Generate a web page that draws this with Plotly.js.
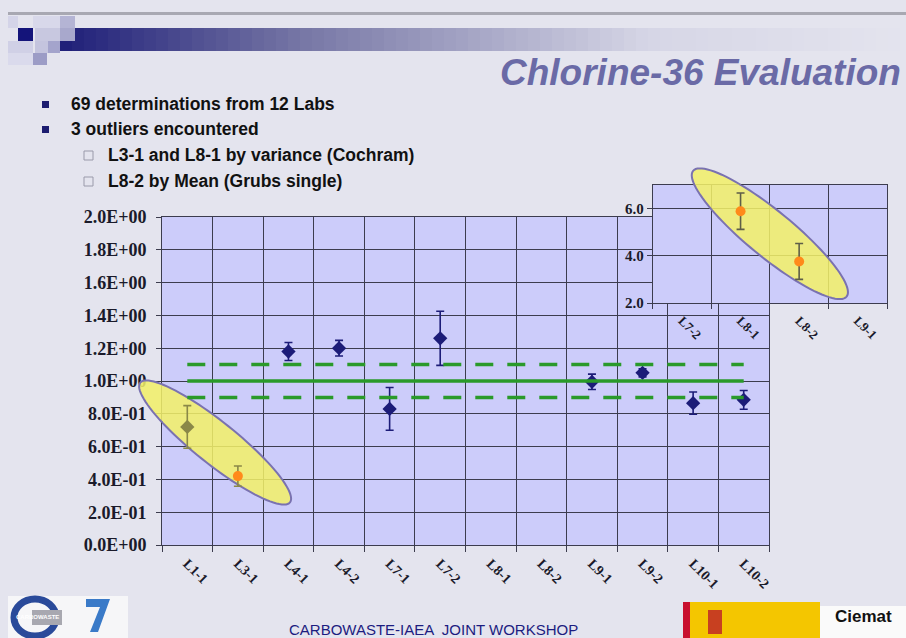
<!DOCTYPE html>
<html>
<head>
<meta charset="utf-8">
<script src="https://cdn.plot.ly/plotly-3.0.1.min.js"></script>
<style>html,body{margin:0;padding:0;background:#e4e4ee;}#chart{width:906px;height:638px;}</style>
</head>
<body>
<div id="chart"></div>
<script>
// ---------- data ----------
const categories = ['L1-1','L3-1','L4-1','L4-2','L7-1','L7-2','L8-1','L8-2','L9-1','L9-2','L10-1','L10-2'];
const values = [0.72, 0.42, 1.18, 1.20, 0.83, 1.26, 5.89, 3.76, 0.995, 1.05, 0.865, 0.885];
const uncertainties = [0.13, 0.062, 0.055, 0.048, 0.13, 0.165, 0.77, 0.76, 0.047, 0.025, 0.068, 0.057];
const outlierLabs = ['L3-1','L8-1','L8-2'];
const shadedLabs = ['L1-1'];
const referenceValue = 1.0;
const referenceBand = 0.1;
const yTickValues = [0, 0.2, 0.4, 0.6, 0.8, 1.0, 1.2, 1.4, 1.6, 1.8, 2.0];
const yTickLabels = ['0.0E+00','2.0E-01','4.0E-01','6.0E-01','8.0E-01','1.0E+00','1.2E+00','1.4E+00','1.6E+00','1.8E+00','2.0E+00'];
const insetCategories = ['L7-2','L8-1','L8-2','L9-1'];
const insetTickValues = [2, 4, 6];
const insetTickLabels = ['2.0','4.0','6.0'];
const insetRange = [2, 7];

// ---------- layout constants ----------
const W = 906, H = 638;
const mainX = [162/W, 769/W];
const mainY = [1-545/H, 1-217/H];
const insX = [652.7/W, 887/W];
const insY = [1-303/H, 1-185/H];

const idx = categories.map((c,i)=>i);
const boundaries = categories.map((c,i)=>i-0.5).concat([categories.length-0.5]);
const insStart = categories.indexOf(insetCategories[0]);
const insEnd = categories.indexOf(insetCategories[insetCategories.length-1]);

const navy = '#1c1c78', olive = '#8a8848', orange = '#ff8a1a', green = '#2a9a2a';
const gridC = '#3c3c4e';

function group(filterFn){
  const g = idx.filter(filterFn);
  return {x: g, y: g.map(i=>values[i]), e: g.map(i=>uncertainties[i])};
}
const normal = group(i => !outlierLabs.includes(categories[i]) && !shadedLabs.includes(categories[i]));
const shaded = group(i => shadedLabs.includes(categories[i]));
const outl = group(i => outlierLabs.includes(categories[i]));

const traces = [];
function addGroup(g, color, errColor, symbol, size, xa, ya){
  traces.push({x:g.x, y:g.y, type:'scatter', mode:'markers', xaxis:xa, yaxis:ya,
    marker:{color:color, symbol:symbol, size:size},
    error_y:{type:'data', array:g.e, visible:true, color:errColor, thickness:1.6, width:4},
    showlegend:false, hoverinfo:'skip'});
}
addGroup(normal, navy, navy, 'diamond', 11, 'x', 'y');
addGroup(shaded, olive, olive, 'diamond', 11, 'x', 'y');
addGroup(outl, orange, olive, 'circle', 10, 'x', 'y');
addGroup(outl, orange, '#5e5e48', 'circle', 10, 'x2', 'y2');

const lineX = [idx[0], idx[idx.length-1]];
traces.push({x:lineX, y:[referenceValue, referenceValue], mode:'lines', line:{color:green, width:3.5}, showlegend:false, hoverinfo:'skip'});
traces.push({x:lineX, y:[referenceValue+referenceBand, referenceValue+referenceBand], mode:'lines', line:{color:green, width:3.5, dash:'18px,14px'}, showlegend:false, hoverinfo:'skip'});
traces.push({x:lineX, y:[referenceValue-referenceBand, referenceValue-referenceBand], mode:'lines', line:{color:green, width:3.5, dash:'18px,14px'}, showlegend:false, hoverinfo:'skip'});

// ---------- ellipse helpers ----------
function toPx(v, dom, rng, isX){
  const f = dom[0] + (v - rng[0])/(rng[1]-rng[0])*(dom[1]-dom[0]);
  return isX ? f*W : (1-f)*H;
}
function fromPx(p, dom, rng, isX){
  const f = isX ? p/W : 1 - p/H;
  return rng[0] + (f - dom[0])/(dom[1]-dom[0])*(rng[1]-rng[0]);
}
function ellipsePx(p1, p2, semiMinor, xd, xr, yd, yr){
  const ax = toPx(p1[0], xd, xr, true), ay = toPx(p1[1], yd, yr, false);
  const bx = toPx(p2[0], xd, xr, true), by = toPx(p2[1], yd, yr, false);
  const cx = (ax+bx)/2, cy = (ay+by)/2;
  const a = Math.hypot(bx-ax, by-ay)/2, th = Math.atan2(by-ay, bx-ax);
  const pts = [];
  for(let k=0;k<96;k++){
    const t = k/96*2*Math.PI;
    pts.push([cx + a*Math.cos(t)*Math.cos(th) - semiMinor*Math.sin(t)*Math.sin(th),
              cy + a*Math.cos(t)*Math.sin(th) + semiMinor*Math.sin(t)*Math.cos(th)]);
  }
  return pts;
}
function pathData(pts, xd, xr, yd, yr, close){
  return pts.map((p,k)=>(k?'L':'M') + fromPx(p[0], xd, xr, true).toFixed(4) + ',' + fromPx(p[1], yd, yr, false).toFixed(4)).join('') + (close?'Z':'');
}
function pathPaper(pts, close){
  return pts.map((p,k)=>(k?'L':'M') + (p[0]/W).toFixed(5) + ',' + (1-p[1]/H).toFixed(5)).join('') + (close?'Z':'');
}
// part of ellipse beyond a straight boundary (axis = 0 for x, 1 for y; outside when coord < lim)
function capParts(pts, axis, lim){
  const n = pts.length, out = p => p[axis] < lim;
  const cross = (a,b) => { const t = (lim - a[axis])/(b[axis]-a[axis]); return [a[0]+(b[0]-a[0])*t, a[1]+(b[1]-a[1])*t]; };
  let s = pts.findIndex(p=>!out(p));
  const arc = []; let started = false;
  for(let k=1;k<=n;k++){
    const a = pts[(s+k-1)%n], b = pts[(s+k)%n];
    if(!out(a) && out(b)){ arc.push(cross(a,b)); started = true; }
    if(out(b)) arc.push(b);
    if(out(a) && !out(b) && started){ arc.push(cross(a,b)); break; }
  }
  return arc;
}
const mainXR = [-0.5, categories.length-0.5], mainYR = [0, 2];
const insXR = [insStart-0.5, insEnd+0.5];
const ellFill = 'rgba(242,240,104,0.86)', ellLine = '#7a72b0';

const shapes = [];
// slide decorations
shapes.push({type:'rect', xref:'paper', yref:'paper', x0:8/W, x1:1, y0:1-15/H, y1:1-12/H, fillcolor:'#a8a8b2', line:{width:0}, layer:'below'});
const gradStops = [[60,[30,30,120]],[300,[118,118,165]],[650,[214,214,230]],[906,[228,228,238]]];
function gradColor(x){
  for(let k=0;k<gradStops.length-1;k++){
    const [x0,c0]=gradStops[k],[x1,c1]=gradStops[k+1];
    if(x<=x1){const t=(x-x0)/(x1-x0);return 'rgb('+c0.map((c,j)=>Math.round(c+(c1[j]-c)*t)).join(',')+')';}
  }
  return 'rgb(228,228,238)';
}
for(let x=60;x<906;x+=12){
  shapes.push({type:'rect', xref:'paper', yref:'paper', x0:x/W, x1:Math.min(x+12.5,906)/W, y0:1-51/H, y1:1-28/H, fillcolor:gradColor(x+6), line:{width:0}, layer:'below'});
}
const squares = [[8,16,18,28,'#d4d4e8'],[33,16,60,28,'#d8d8ea'],[60,16,75,28,'#b4b4d4'],[35,28,60,41,'#c8c8e0'],[60,28,75,41,'#a8a8cc'],[18,28,33,41,'#14147a'],[8,41,33,53,'#d0d0e6'],[35,41,48,53,'#c4c4de'],[48,41,60,53,'#a4a4cc'],[33,53,47,65,'#9c9cc6'],[8,53,33,65,'#dadaec']];
squares.forEach(q=>shapes.push({type:'rect', xref:'paper', yref:'paper', x0:q[0]/W, x1:q[2]/W, y0:1-q[3]/H, y1:1-q[1]/H, fillcolor:q[4], line:{width:0}, layer:'below'}));
// bullets
[104,129].forEach(y=>shapes.push({type:'rect', xref:'paper', yref:'paper', x0:42/W, x1:49/W, y0:1-(y+4)/H, y1:1-(y-3)/H, fillcolor:'#1c1c70', line:{width:0}, layer:'below'}));
[155,181].forEach(y=>shapes.push({type:'rect', xref:'paper', yref:'paper', x0:84/W, x1:93/W, y0:1-(y+5)/H, y1:1-(y-4)/H, fillcolor:'rgba(0,0,0,0)', line:{color:'#9a9aaa', width:1}, layer:'below'}));
// logos (approximate)
shapes.push({type:'rect', xref:'paper', yref:'paper', x0:8/W, x1:128/W, y0:0, y1:1-596/H, fillcolor:'#f6f6f8', line:{width:0}, layer:'below'});
shapes.push({type:'circle', xref:'paper', yref:'paper', x0:14/W, x1:56/W, y0:1-636/H, y1:1-599/H, fillcolor:'rgba(0,0,0,0)', line:{color:'#2a4a9a', width:7}, layer:'below'});
shapes.push({type:'rect', xref:'paper', yref:'paper', x0:32/W, x1:62/W, y0:1-625/H, y1:1-610/H, fillcolor:'#a8a8b0', line:{width:0}, layer:'below'});
shapes.push({type:'path', xref:'paper', yref:'paper', path:'M'+(86/W)+','+(1-599/H)+'L'+(110/W)+','+(1-599/H)+'L'+(98/W)+','+(1-632/H)+'L'+(90/W)+','+(1-632/H)+'L'+(100/W)+','+(1-607/H)+'L'+(86/W)+','+(1-607/H)+'Z', fillcolor:'#3a7ac8', line:{width:0}, layer:'below'});
shapes.push({type:'rect', xref:'paper', yref:'paper', x0:683/W, x1:820/W, y0:0, y1:1-602/H, fillcolor:'#f4c600', line:{width:0}, layer:'below'});
shapes.push({type:'rect', xref:'paper', yref:'paper', x0:683/W, x1:690/W, y0:0, y1:1-602/H, fillcolor:'#c8102e', line:{width:0}, layer:'below'});
shapes.push({type:'rect', xref:'paper', yref:'paper', x0:708/W, x1:722/W, y0:1-634/H, y1:1-610/H, fillcolor:'#c84020', line:{width:0}, layer:'below'});
shapes.push({type:'rect', xref:'paper', yref:'paper', x0:820/W, x1:1, y0:0, y1:1-606/H, fillcolor:'#fafafa', line:{width:0}, layer:'below'});

// ellipses: in-plot part (between grid and markers) + overflow cap above
const mainEll = ellipsePx([-0.93, 0.99], [2.03, 0.26], 21, mainX, mainXR, mainY, mainYR);
shapes.push({type:'path', xref:'x', yref:'y', layer:'between', path:pathData(mainEll, mainX, mainXR, mainY, mainYR, true), fillcolor:ellFill, line:{color:ellLine, width:2}});
const mainCap = capParts(mainEll, 0, mainX[0]*W);
if(mainCap.length>2){
  shapes.push({type:'path', xref:'paper', yref:'paper', layer:'above', path:pathPaper(mainCap, true), fillcolor:ellFill, line:{width:0}});
  shapes.push({type:'path', xref:'paper', yref:'paper', layer:'above', path:pathPaper(mainCap, false), fillcolor:'rgba(0,0,0,0)', line:{color:ellLine, width:2}});
}
const insEll = ellipsePx([5.19, 7.6], [7.81, 2.27], 23, insX, insXR, insY, insetRange);
shapes.push({type:'path', xref:'x2', yref:'y2', layer:'between', path:pathData(insEll, insX, insXR, insY, insetRange, true), fillcolor:ellFill, line:{color:ellLine, width:2}});
const insCap = capParts(insEll, 1, (1-insY[1])*H);
if(insCap.length>2){
  shapes.push({type:'path', xref:'paper', yref:'paper', layer:'above', path:pathPaper(insCap, true), fillcolor:ellFill, line:{width:0}});
  shapes.push({type:'path', xref:'paper', yref:'paper', layer:'above', path:pathPaper(insCap, false), fillcolor:'rgba(0,0,0,0)', line:{color:ellLine, width:2}});
}

const annotations = [];
function txt(text, x, y, size, opts){
  annotations.push(Object.assign({xref:'paper', yref:'paper', x:x/W, y:1-y/H, text:text, showarrow:false,
    xanchor:'left', yanchor:'middle', font:{family:'Liberation Sans Narrow, Liberation Sans, Arial', size:size, color:'#111111', weight:'bold'}}, opts||{}));
}
txt('Chlorine-36 Evaluation', 903, 73, 37, {xanchor:'right', font:{family:'Liberation Sans, Arial', size:37, color:'#6a6aa6', weight:'bold', style:'italic'}});
txt('69 determinations from 12 Labs', 69, 104, 17.5);
txt('3 outliers encountered', 69, 129, 17.5);
txt('L3-1 and L8-1 by variance (Cochram)', 106, 155, 17.5);
txt('L8-2 by Mean (Grubs single)', 106, 181, 17.5);
txt('CARBOWASTE-IAEA  JOINT WORKSHOP', 433, 629, 15, {xanchor:'center', font:{family:'Liberation Sans Narrow, Liberation Sans, Arial', size:15, color:'#1c1c80'}});
txt('Ciemat', 863, 616, 17, {xanchor:'center', font:{family:'Liberation Sans, Arial', size:17, color:'#111111', weight:'bold'}});
txt('CARBOWASTE', 37, 617, 6, {xanchor:'center', font:{family:'Liberation Sans, Arial', size:6, color:'#ffffff', weight:'bold'}});

const serif = 'Liberation Serif, Times New Roman, serif';
const layout = {
  width:W, height:H, margin:{l:0,r:0,t:0,b:0},
  paper_bgcolor:'#e4e4ee', plot_bgcolor:'#ccccfa', showlegend:false,
  xaxis:{domain:mainX, range:mainXR, tickmode:'array', tickvals:idx, ticktext:categories, tickangle:45,
    ticks:'', showgrid:false, zeroline:false, showline:true, linecolor:gridC, linewidth:1, mirror:true,
    tickfont:{family:serif, size:14, color:'#1a1a2a', weight:'bold'}, ticklabelstandoff:4,
    minor:{tickmode:'array', tickvals:boundaries, ticks:'outside', ticklen:6, tickcolor:gridC, showgrid:true, gridcolor:gridC, gridwidth:1}},
  yaxis:{domain:mainY, range:mainYR, tickmode:'array', tickvals:yTickValues, ticktext:yTickLabels,
    ticks:'outside', ticklen:5, tickcolor:gridC, showgrid:true, gridcolor:gridC, gridwidth:1, zeroline:false,
    showline:true, linecolor:gridC, mirror:true, ticklabelstandoff:6,
    tickfont:{family:serif, size:18, color:'#1a1a2a', weight:'bold'}},
  xaxis2:{domain:insX, range:insXR, anchor:'y2', tickmode:'array', tickvals:idx, ticktext:categories, tickangle:45,
    ticks:'', showgrid:false, zeroline:false, showline:true, linecolor:gridC, mirror:true,
    tickfont:{family:serif, size:13, color:'#1a1a2a', weight:'bold'}, ticklabelstandoff:4,
    minor:{tickmode:'array', tickvals:boundaries, ticks:'outside', ticklen:5, tickcolor:gridC, showgrid:true, gridcolor:gridC, gridwidth:1}},
  yaxis2:{domain:insY, range:insetRange, anchor:'x2', tickmode:'array', tickvals:insetTickValues, ticktext:insetTickLabels,
    ticks:'outside', ticklen:5, tickcolor:gridC, showgrid:true, gridcolor:gridC, zeroline:false, showline:true, linecolor:gridC, mirror:true,
    tickfont:{family:serif, size:15, color:'#1a1a2a', weight:'bold'}},
  shapes:shapes, annotations:annotations
};
Plotly.newPlot('chart', traces, layout, {displayModeBar:false, staticPlot:true});
</script>
</body>
</html>
